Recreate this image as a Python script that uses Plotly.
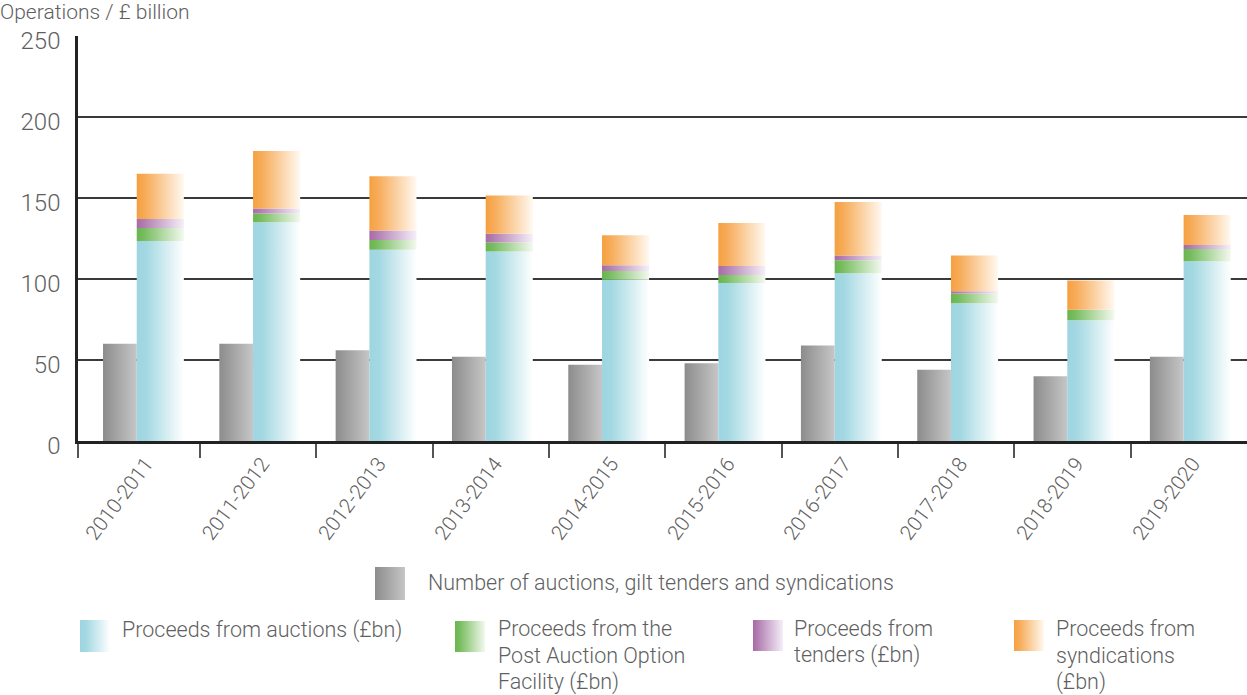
import base64
import plotly.graph_objects as go

# Financial years on the category axis
years = ["2010-2011", "2011-2012", "2012-2013", "2013-2014", "2014-2015",
         "2015-2016", "2016-2017", "2017-2018", "2018-2019", "2019-2020"]

# Number of operations (auctions, gilt tenders and syndications)
operations = [60, 60, 56, 52, 47, 48, 59, 44, 40, 52]

# Proceeds, £bn (stacked from the bottom up)
auctions = [123.5, 135, 118, 117, 99.5, 97.5, 103.5, 85, 74.5, 111]
paof = [8, 5.5, 6, 5.5, 5.5, 5, 8, 6, 6.5, 7.5]
tenders = [5.5, 3, 6, 5.5, 3.5, 5.5, 3, 1.5, 0, 2.5]
syndications = [28, 35.5, 33.5, 23.5, 18.5, 26.5, 33, 22, 18, 18.5]

y_ticks = [0, 50, 100, 150, 200, 250]

# Plot geometry (pixels)
W, H = 1247, 695
L, R, T, B = 78, 0, 36, 254
PW, PH = W - L - R, H - T - B

FONT = "Roboto"
TEXT = "#5f5f5f"

# Horizontal fade used by each series: solid on the left, pale on the right
grads = {
    "ops": [[0, "#8c8c8c"], [1, "#c6c6c6"]],
    "auc": [[0, "#9ed5e0"], [0.2, "#a3d8e2"], [1, "#ffffff"]],
    "paof": [[0, "#69b54f"], [0.15, "#76bc5e"], [1, "#f3f9ef"]],
    "ten": [[0, "#a96aa7"], [0.15, "#b17db1"], [1, "#f5eff9"]],
    "syn": [[0, "#f5a040"], [0.2, "#f7ad5c"], [1, "#fff9f1"]],
}

# Bar placement within each category (in category units)
OPS_X0, OPS_X1 = -0.335, -0.045
STK_X0, STK_X1 = -0.045, 0.36

fig = go.Figure()


def add_bar(xc, x0, x1, base, top, grad):
    if top - base <= 0:
        return
    a, b = xc + x0, xc + x1
    fig.add_trace(go.Scatter(
        x=[a, b, b, a, a], y=[base, base, top, top, base],
        mode="lines", line=dict(width=0), fill="toself",
        fillgradient=dict(type="horizontal", colorscale=grad, start=a, stop=b),
        hoverinfo="skip", showlegend=False,
    ))


for i in range(len(years)):
    add_bar(i, OPS_X0, OPS_X1, 0, operations[i], grads["ops"])
    base = 0
    for series, key in ((auctions, "auc"), (paof, "paof"),
                        (tenders, "ten"), (syndications, "syn")):
        add_bar(i, STK_X0, STK_X1, base, base + series[i], grads[key])
        base += series[i]


def px_x(px):
    return (px - L) / PW


def px_y(py):
    return (H - B - py) / PH


def swatch(grad, w, h):
    stops = "".join(
        f'<stop offset="{o}" stop-color="{c}"/>' for o, c in grad)
    svg = (f'<svg xmlns="http://www.w3.org/2000/svg" width="{w}" height="{h}" '
           f'viewBox="0 0 {w} {h}" preserveAspectRatio="none">'
           f'<defs><linearGradient id="g" x1="0" y1="0" x2="1" y2="0">{stops}'
           f'</linearGradient></defs><rect width="{w}" height="{h}" fill="url(#g)"/></svg>')
    return "data:image/svg+xml;base64," + base64.b64encode(svg.encode()).decode()


LEG_SIZE = 21.5

# Legend: swatch box (left, top, w, h) and text lines (x, [(y, text)])
legend_items = [
    ("ops", (375, 567, 30, 33), 428,
     [(582, "Number of auctions, gilt tenders and syndications")]),
    ("auc", (80, 620, 30, 32), 122, [(630, "Proceeds from auctions (£bn)")]),
    ("paof", (455, 621, 30, 31), 498,
     [(628, "Proceeds from the"), (655, "Post Auction Option"), (682, "Facility (£bn)")]),
    ("ten", (753, 620, 30, 31), 794,
     [(628, "Proceeds from"), (655, "tenders (£bn)")]),
    ("syn", (1014, 620, 30, 31), 1056,
     [(628, "Proceeds from"), (655, "syndications"), (682, "(£bn)")]),
]

images, annotations = [], []
for key, (sx, sy, sw, sh), tx, lines in legend_items:
    images.append(dict(
        source=swatch(grads[key], sw, sh), xref="paper", yref="paper",
        x=px_x(sx), y=px_y(sy), sizex=sw / PW, sizey=sh / PH,
        xanchor="left", yanchor="top", sizing="stretch", layer="above"))
    for ty, txt in lines:
        annotations.append(dict(
            text=txt, xref="paper", yref="paper", x=px_x(tx - 2), y=px_y(ty),
            xanchor="left", yanchor="middle", showarrow=False,
            font=dict(family=FONT, size=LEG_SIZE, color=TEXT, weight=300)))

annotations.append(dict(
    text="Operations / £ billion", xref="paper", yref="paper",
    x=px_x(-2), y=px_y(12), xanchor="left", yanchor="middle", showarrow=False,
    font=dict(family=FONT, size=21, color=TEXT, weight=300)))

boundaries = [i + 0.5 for i in range(len(years) - 1)]

fig.update_layout(
    width=W, height=H,
    margin=dict(l=L, r=R, t=T, b=B),
    paper_bgcolor="white", plot_bgcolor="white",
    showlegend=False,
    images=images,
    annotations=annotations,
    xaxis=dict(
        range=[-0.55, len(years) - 0.5],
        tickmode="array", tickvals=list(range(len(years))), ticktext=years,
        tickangle=-53, ticks="", showgrid=False, zeroline=False,
        showline=True, linecolor="#222222", linewidth=2.5,
        ticklabelshift=4,
        tickfont=dict(family=FONT, size=20.5, color=TEXT, weight=300),
        minor=dict(tickmode="array", tickvals=[-0.55] + boundaries,
                   ticks="outside", ticklen=14, tickwidth=1.5,
                   tickcolor="#555555", showgrid=False),
    ),
    yaxis=dict(
        range=[0, 250], tickmode="array", tickvals=y_ticks,
        showgrid=True, gridcolor="#3a3a3a", gridwidth=2,
        zeroline=False, showline=True, linecolor="#222222", linewidth=2.5,
        ticks="", ticklabelstandoff=10, ticklabelshift=5,
        tickfont=dict(family=FONT, size=24, color=TEXT, weight=300),
    ),
)

fig.write_html("out.html")
